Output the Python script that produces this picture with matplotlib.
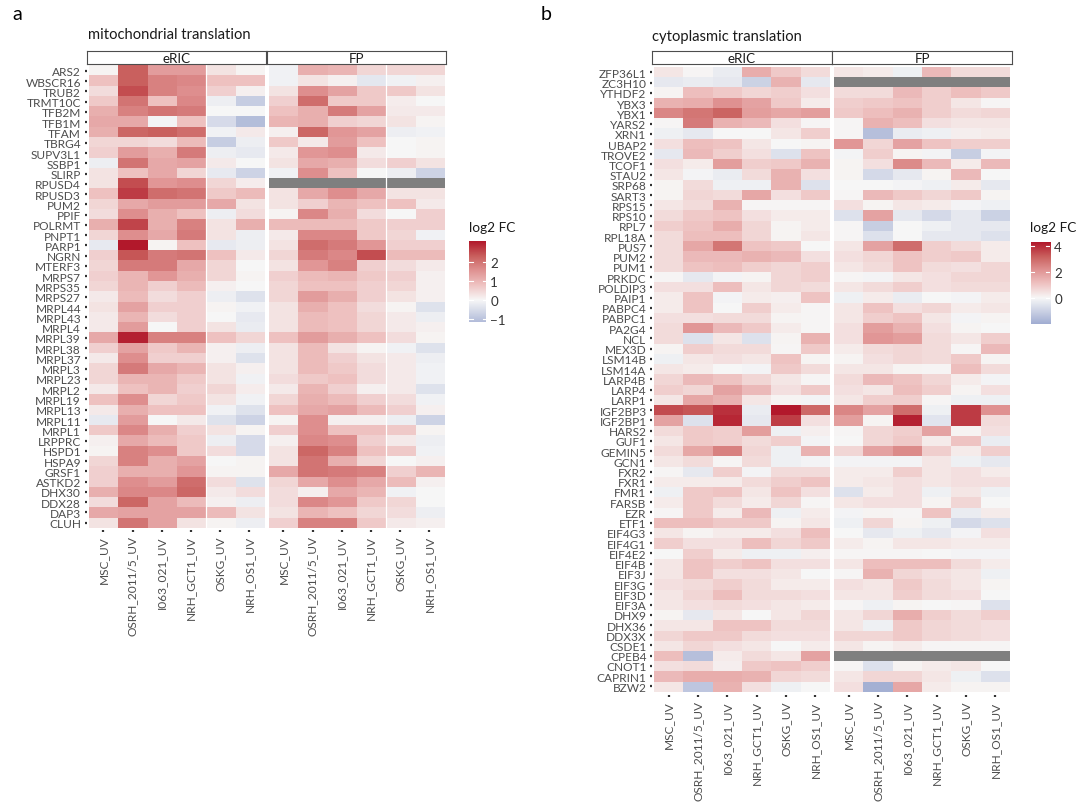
import numpy as np
import matplotlib
matplotlib.use("Agg")
import matplotlib.pyplot as plt
from matplotlib.colors import LinearSegmentedColormap, Normalize

W, H = 1080, 804
plt.rcParams["font.family"] = ["Lato", "DejaVu Sans"]

nan = float("nan")

samples = ["MSC_UV", "OSRH_2011/5_UV", "I063_021_UV", "NRH_GCT1_UV", "OSKG_UV", "NRH_OS1_UV"]

# --- panel a: mitochondrial translation (log2 FC) ---
mito_genes = ["ARS2", "WBSCR16", "TRUB2", "TRMT10C", "TFB2M", "TFB1M", "TFAM", "TBRG4",
              "SUPV3L1", "SSBP1", "SLIRP", "RPUSD4", "RPUSD3", "PUM2", "PPIF", "POLRMT",
              "PNPT1", "PARP1", "NGRN", "MTERF3", "MRPS7", "MRPS35", "MRPS27", "MRPL44",
              "MRPL43", "MRPL4", "MRPL39", "MRPL38", "MRPL37", "MRPL3", "MRPL23", "MRPL2",
              "MRPL19", "MRPL13", "MRPL11", "MRPL1", "LRPPRC", "HSPD1", "HSPA9", "GRSF1",
              "ASTKD2", "DHX30", "DDX28", "DAP3", "CLUH"]

mito_eric = [
    [0.05, 2.3, 1.4, 1.4, 0.3, 0.05],
    [0.8, 2.3, 1.8, 1.7, 0.8, 0.8],
    [0.4, 2.5, 1.8, 1.6, 0.6, 0.1],
    [0.7, 2.0, 0.8, 1.7, -0.15, -0.8],
    [1.1, 1.8, 2.0, 1.9, 0.0, 0.0],
    [1.2, 1.2, -0.05, 0.8, -0.55, -1.1],
    [1.1, 2.2, 2.3, 2.1, -0.1, 0.2],
    [0.5, 0.5, 0.4, 0.9, -0.8, -0.15],
    [0.6, 1.4, 1.1, 1.9, -0.15, -0.25],
    [-0.15, 2.0, 1.2, 1.3, 0.2, 0.0],
    [0.3, 0.8, 1.2, 0.5, -0.25, -0.7],
    [0.3, 2.5, 1.5, 1.6, 0.5, 0.15],
    [0.8, 2.7, 2.1, 2.0, 0.7, 0.9],
    [0.5, 1.2, 1.4, 1.4, 1.2, 0.3],
    [0.4, 1.6, 1.1, 0.8, -0.15, 0.4],
    [1.1, 2.6, 1.1, 1.8, 0.3, 1.1],
    [0.5, 1.6, 1.2, 1.9, 0.3, -0.15],
    [-0.25, 3.1, 0.05, 0.8, -0.25, -0.15],
    [0.6, 2.4, 1.9, 2.0, 0.8, 0.2],
    [0.5, 1.9, 1.9, 1.2, 0.5, 0.0],
    [0.6, 1.0, 1.5, 1.1, 0.5, 0.05],
    [0.5, 1.0, 0.6, 0.9, 0.1, 0.0],
    [0.2, 0.9, 0.4, 0.6, -0.15, -0.4],
    [0.3, 1.3, 0.6, 0.6, 0.05, -0.1],
    [0.2, 1.0, 0.4, 0.6, 0.0, -0.25],
    [0.2, 1.4, 0.0, 0.6, 0.3, -0.2],
    [1.2, 3.0, 1.8, 1.8, 0.8, 0.5],
    [0.6, 1.3, 0.7, 1.0, 0.1, -0.15],
    [0.2, 1.6, 0.6, 0.6, 0.1, -0.4],
    [0.5, 1.9, 1.2, 1.0, 0.3, 0.1],
    [0.5, 1.0, 1.0, 0.7, 0.3, -0.1],
    [0.2, 0.8, 1.0, 0.6, 0.5, 0.15],
    [0.8, 1.6, 0.5, 0.7, 0.3, -0.1],
    [0.2, 1.1, 0.8, 0.8, -0.1, -0.4],
    [-0.25, 1.4, 0.0, 0.2, -0.4, -0.7],
    [0.7, 1.7, 1.1, 0.6, 0.3, 0.05],
    [0.1, 1.2, 0.9, 0.7, -0.15, -0.55],
    [0.05, 1.8, 1.6, 0.7, 0.4, -0.55],
    [0.5, 1.8, 1.1, 1.3, 0.0, 0.05],
    [0.6, 1.1, 1.1, 1.5, 0.05, 0.05],
    [0.6, 1.6, 1.4, 2.1, 0.4, -0.4],
    [1.1, 1.7, 1.7, 2.2, 0.2, 0.4],
    [0.4, 2.2, 1.3, 0.9, 0.1, -0.15],
    [1.2, 1.3, 1.3, 1.3, 0.9, 0.3],
    [0.3, 2.0, 1.3, 0.3, 0.05, -0.15],
]

mito_fp = [
    [-0.1, 1.1, 1.0, 0.5, 0.5, 0.5],
    [-0.1, 0.3, 0.1, -0.3, -0.1, 0.1],
    [0.3, 1.6, 1.3, 0.7, 0.7, 0.3],
    [0.6, 2.1, 0.7, 0.7, 0.15, 0.0],
    [0.8, 1.1, 1.9, 1.3, 0.2, 0.2],
    [1.0, 1.1, 0.6, 0.5, 0.3, 0.05],
    [0.1, 2.2, 1.5, 1.3, -0.15, -0.1],
    [0.7, 0.2, 1.4, 0.8, 0.0, 0.05],
    [0.2, 1.5, 1.6, 0.2, 0.0, 0.05],
    [0.3, 1.2, 1.1, 0.4, 0.6, 0.3],
    [-0.1, 1.6, 0.8, 0.0, -0.15, -0.7],
    [nan, nan, nan, nan, nan, nan],
    [0.3, 1.2, 1.6, 1.2, 0.3, 0.3],
    [0.3, 0.6, 1.0, 0.8, 0.8, 0.2],
    [0.05, 1.7, 1.1, 0.4, 0.0, 0.6],
    [0.9, 0.9, 0.9, 0.7, 0.6, 0.6],
    [0.2, 1.7, 1.7, 0.7, 0.5, -0.1],
    [0.3, 2.1, 1.9, 1.5, 0.6, 0.6],
    [0.5, 1.9, 1.7, 2.5, 0.9, 0.9],
    [0.3, 1.5, 1.8, 0.6, 0.4, 0.2],
    [0.6, 0.9, 1.0, 0.7, 0.6, 0.1],
    [0.5, 0.8, 0.8, 0.6, 0.5, 0.1],
    [0.5, 1.4, 1.1, 0.6, 0.3, 0.1],
    [0.3, 1.1, 0.8, 0.4, 0.05, -0.4],
    [0.3, 0.9, 0.8, 0.5, 0.2, -0.15],
    [0.3, 0.9, 0.8, 0.5, 0.2, 0.1],
    [0.8, 1.4, 1.1, 0.8, 0.4, 0.05],
    [0.3, 0.9, 0.3, 0.05, -0.1, -0.4],
    [0.3, 0.9, 0.6, 0.3, 0.2, -0.15],
    [0.3, 0.9, 0.7, 0.4, 0.2, -0.1],
    [0.4, 0.7, 0.8, 0.4, 0.2, -0.1],
    [0.2, 1.0, 0.6, 0.1, 0.2, -0.4],
    [0.5, 1.1, 0.9, 0.6, 0.4, -0.1],
    [0.8, 1.2, 1.3, 0.9, 0.6, 0.1],
    [0.05, 1.6, 0.1, 0.1, -0.15, -0.7],
    [0.6, 1.6, 0.8, 0.8, 0.7, 0.05],
    [0.1, 1.7, 1.6, 0.6, 0.2, -0.15],
    [0.3, 2.2, 1.8, 0.8, 0.7, -0.1],
    [0.3, 2.0, 1.1, 0.5, 0.0, 0.1],
    [1.2, 2.0, 1.9, 1.8, 0.6, 1.0],
    [0.5, 1.2, 1.6, 1.2, 0.9, 0.1],
    [0.4, 0.1, 1.2, 1.0, -0.1, 0.0],
    [0.4, 1.7, 1.5, 0.7, 0.5, 0.0],
    [0.3, 1.0, 0.8, 0.5, 0.4, -0.15],
    [0.6, 1.8, 1.8, 0.7, 0.2, 0.1],
]

# --- panel b: cytoplasmic translation (log2 FC) ---
cyto_genes = ["ZFP36L1", "ZC3H10", "YTHDF2", "YBX3", "YBX1", "YARS2", "XRN1", "UBAP2",
              "TROVE2", "TCOF1", "STAU2", "SRP68", "SART3", "RPS15", "RPS10", "RPL7",
              "RPL18A", "PUS7", "PUM2", "PUM1", "PRKDC", "POLDIP3", "PAIP1", "PABPC4",
              "PABPC1", "PA2G4", "NCL", "MEX3D", "LSM14B", "LSM14A", "LARP4B", "LARP4",
              "LARP1", "IGF2BP3", "IGF2BP1", "HARS2", "GUF1", "GEMIN5", "GCN1", "FXR2",
              "FXR1", "FMR1", "FARSB", "EZR", "ETF1", "EIF4G3", "EIF4G1", "EIF4E2",
              "EIF4B", "EIF3J", "EIF3G", "EIF3D", "EIF3A", "DHX9", "DHX36", "DDX3X",
              "CSDE1", "CPEB4", "CNOT1", "CAPRIN1", "BZW2"]

cyto_eric = [
    [0.35, 0.05, -0.3, 1.55, 0.95, 0.6],
    [-0.4, -0.3, -0.4, -1.0, 1.45, -0.4],
    [0.1, 1.2, 0.95, 0.7, 0.85, 0.5],
    [1.45, 1.55, 2.15, 1.8, 0.95, 0.25],
    [2.4, 2.75, 3.1, 1.9, 1.7, 1.9],
    [0.05, 2.65, 1.45, 1.3, 0.5, 0.05],
    [-0.2, -0.4, 0.0, 0.0, 0.35, 0.85],
    [0.5, 1.2, 1.1, 0.35, 0.0, 0.1],
    [-0.4, 1.3, 0.85, 0.5, -0.6, 1.1],
    [0.5, 0.25, 1.9, 0.85, 0.95, 1.45],
    [0.35, -0.1, -0.3, 0.6, 1.45, 0.5],
    [0.1, 0.6, -0.2, -0.2, 1.45, -0.6],
    [0.1, 0.7, 0.6, 1.7, 0.5, 0.95],
    [0.35, 0.6, 1.45, 0.05, 0.05, 0.05],
    [0.6, 0.95, 1.1, 0.5, 0.25, 0.25],
    [0.85, 1.1, 1.55, 0.7, 0.1, 0.25],
    [0.6, 1.2, 1.2, 0.7, 0.1, 0.35],
    [0.6, 1.7, 2.75, 1.1, 0.95, 0.0],
    [0.6, 1.3, 1.3, 1.45, 1.3, 0.5],
    [0.6, 1.1, 1.2, 0.85, 0.7, 0.85],
    [0.05, -0.4, -0.1, 0.1, 0.7, 0.85],
    [0.5, 0.5, 1.2, 0.35, 0.7, 0.6],
    [0.25, 1.1, -0.1, 0.25, 0.2, 1.1],
    [0.25, 1.1, 0.0, 0.85, 0.25, 0.05],
    [0.5, 0.5, 0.6, 0.6, 0.1, 0.05],
    [0.6, 2.05, 1.3, 0.95, 0.25, 0.05],
    [0.6, -0.6, 0.35, -0.6, 0.1, 1.45],
    [0.1, 0.85, 0.6, 0.6, 0.05, 0.95],
    [-0.2, 0.35, 0.5, 0.35, 1.1, 0.1],
    [0.35, 0.25, 0.0, -0.1, 0.95, 0.6],
    [0.7, 1.3, 1.1, 0.7, 0.35, 0.05],
    [0.85, 0.7, 1.8, 1.3, 0.5, 0.95],
    [0.35, 1.7, 1.45, 0.35, 0.1, -0.1],
    [3.5, 3.35, 3.9, -0.3, 4.3, 3.0],
    [1.8, -0.6, 4.05, -0.4, 3.7, 0.5],
    [0.6, 0.95, 0.85, 1.9, -0.2, 0.2],
    [0.35, 0.95, 0.85, 0.6, 0.85, -0.1],
    [0.6, 1.7, 2.5, 0.7, -0.2, 1.45],
    [0.35, 0.6, 0.05, 0.6, -0.2, -0.1],
    [0.05, -0.4, 0.85, -0.1, 0.6, 0.6],
    [0.25, 0.25, 0.25, 0.6, 0.85, 1.1],
    [-0.2, 0.95, 1.1, 0.35, 1.1, 0.5],
    [0.25, 0.95, 0.6, 0.25, 0.7, 0.05],
    [0.05, 0.95, 0.25, 1.3, -0.2, 0.25],
    [1.2, 1.2, 0.95, 0.95, 0.1, 0.35],
    [0.35, 0.1, 0.25, 0.25, 0.5, 1.2],
    [0.85, 0.5, 0.5, 1.2, 0.7, 0.95],
    [0.0, 0.85, 0.25, -0.2, -0.2, 0.2],
    [0.35, 1.1, 0.85, 1.1, 0.5, 0.5],
    [0.35, 1.1, 0.5, 0.5, 0.35, 0.0],
    [0.5, 0.6, 0.85, 0.6, 0.25, 0.25],
    [0.35, 0.7, 1.2, 0.6, 0.6, 0.5],
    [0.35, 0.5, 0.6, 0.5, 0.35, 0.25],
    [0.1, -0.4, 0.35, 0.0, 0.35, 0.7],
    [0.35, 0.35, 1.1, 1.1, 0.6, 0.6],
    [0.7, 0.95, 0.95, 0.6, 0.5, 0.5],
    [0.35, 0.7, 0.5, 0.35, 0.0, 0.25],
    [1.2, -1.5, 0.25, 0.6, 0.35, 1.8],
    [0.5, 0.6, 0.2, 0.95, 1.1, 0.85],
    [1.3, 1.55, 1.55, 1.45, 0.7, 0.6],
    [0.35, -1.3, 1.45, 0.5, -0.2, 0.0],
]

cyto_fp = [
    [0.35, 0.25, -0.2, 1.3, 0.6, 0.6],
    [nan, nan, nan, nan, nan, nan],
    [0.6, 0.6, 1.3, 0.85, 1.2, 0.95],
    [0.85, 0.95, 1.1, 0.85, 0.35, 0.05],
    [0.95, 1.2, 1.45, 0.85, 0.6, 0.7],
    [0.05, 1.45, 1.2, 0.5, 0.35, 0.35],
    [0.05, -1.5, -0.3, -0.2, 0.2, 0.25],
    [2.05, 0.7, 1.8, 1.1, 0.85, 0.85],
    [-0.1, 0.85, 0.1, -0.1, -1.1, -0.1],
    [0.1, 0.5, 2.3, 1.3, 0.25, 1.3],
    [0.1, -0.8, -0.4, 0.1, 1.3, 0.0],
    [0.0, 0.0, -0.1, -0.2, 0.25, -0.4],
    [0.05, 1.3, 0.95, 0.7, 0.95, 0.1],
    [0.5, 0.1, 0.35, 0.25, -0.1, -0.2],
    [-0.6, 1.8, -0.4, -0.8, -0.4, -1.0],
    [0.05, -1.1, 0.0, -0.2, -0.4, -0.4],
    [0.05, -0.6, 0.0, -0.4, -0.4, -0.6],
    [0.35, 1.8, 2.9, 0.85, 0.6, 0.25],
    [0.5, 0.7, 1.1, 0.85, 0.95, 0.25],
    [0.35, 0.6, 1.1, 0.6, 0.5, 0.7],
    [0.05, -0.1, 0.35, 0.5, 0.7, 0.7],
    [0.35, 0.6, 0.85, 0.5, 0.6, 0.6],
    [-0.2, 0.25, -0.3, 0.0, -0.1, 0.25],
    [0.35, 1.1, 0.5, 0.7, 0.25, 0.35],
    [0.35, 0.85, 1.1, 0.35, -0.1, 0.1],
    [0.5, 1.9, 1.45, 0.5, 0.1, 0.0],
    [0.5, 2.05, 1.9, 0.6, 0.35, 0.85],
    [0.25, 0.6, 0.7, 0.6, 0.05, 1.3],
    [0.1, 0.5, 0.7, 0.6, 0.95, 0.1],
    [0.35, 0.35, 0.1, 0.05, 1.2, 0.6],
    [0.6, 1.3, 1.1, 0.7, 0.25, -0.1],
    [0.5, 0.35, 1.2, 0.85, 0.1, 0.5],
    [0.35, 0.85, 0.85, 0.05, -0.2, -0.2],
    [2.4, 1.8, 2.9, -0.2, 3.75, 2.15],
    [1.9, 0.1, 4.15, -0.5, 3.75, 0.6],
    [0.05, 0.7, 0.85, 1.8, 0.1, 0.5],
    [0.0, 0.7, 0.95, 0.25, 1.1, -0.3],
    [0.7, 1.8, 2.3, 0.85, 0.25, 0.85],
    [-0.1, -0.1, -0.1, 0.35, -0.2, -0.4],
    [0.25, 0.25, 0.85, 0.35, 0.5, 0.25],
    [0.25, 0.35, 0.5, 0.35, 0.5, 0.5],
    [-0.6, 0.25, 0.5, -0.2, 0.35, -0.2],
    [0.35, 0.5, 0.5, 0.1, 0.7, 0.0],
    [-0.1, 0.1, 0.05, 1.1, -0.3, 0.25],
    [-0.2, 0.7, 0.1, -0.2, -0.8, -0.6],
    [0.0, -0.4, -0.2, -0.4, -0.1, 0.5],
    [0.25, 0.1, 0.35, 0.35, 0.25, 0.25],
    [0.05, 0.05, 0.05, 0.0, -0.1, -0.1],
    [0.35, 1.2, 1.2, 1.2, 0.6, 0.25],
    [0.05, 1.45, 0.7, 0.5, 0.35, -0.2],
    [0.5, 0.35, 0.95, 0.6, 0.35, 0.1],
    [0.35, 0.35, 0.85, 0.6, 0.5, 0.0],
    [0.05, -0.2, 0.1, 0.0, 0.05, -0.6],
    [0.35, 0.7, 1.55, 0.85, 0.6, 0.85],
    [0.35, -0.2, 0.95, 0.7, 0.6, 0.5],
    [0.7, 0.7, 0.95, 0.7, 0.6, 0.5],
    [0.35, 0.1, 0.25, 0.05, 0.05, 0.05],
    [nan, nan, nan, nan, nan, nan],
    [0.05, -0.6, 0.1, 0.25, 0.35, 0.0],
    [0.35, 0.7, 0.7, 0.35, -0.2, -0.6],
    [0.5, -1.9, 1.7, 0.25, 0.1, 0.1],
]

# colour bar ranges shown in the legends
mito_range = (-1.15, 3.1)
cyto_range = (-2.0, 4.3)

cmap = LinearSegmentedColormap.from_list("lfc", [
    (0.0, "#3D58A8"), (0.5, "#F7F7F7"), (0.625, "#EFC4C3"),
    (0.75, "#E09393"), (0.875, "#C95F5D"), (1.0, "#B2182B")])
cmap.set_bad("#7F7F7F")

TXT = "#4D4D4D"


def px_axes(fig, x0, y0, x1, y1):
    return fig.add_axes([x0 / W, 1 - y1 / H, (x1 - x0) / W, (y1 - y0) / H])


def draw_facet(fig, box, data, genes, norm, show_y, yexp, split):
    ax = px_axes(fig, *box)
    arr = np.ma.masked_invalid(np.array(data, dtype=float))
    ax.imshow(arr, cmap=cmap, norm=norm, aspect="auto", interpolation="nearest")
    if split:
        ax.axvline(3.5, color="white", lw=0.9)
    n = len(genes)
    ax.set_xlim(-0.57, 5.57)
    ax.set_ylim(n - 0.5 + yexp, -0.5 - yexp)
    for s in ax.spines.values():
        s.set_visible(False)
    ax.set_xticks(range(len(samples)))
    ax.set_xticklabels(samples, rotation=90)
    if show_y:
        ax.set_yticks(range(n))
        ax.set_yticklabels(genes)
    else:
        ax.set_yticks([])
    ax.tick_params(length=1.6, width=1.6, color="#333333", pad=2.5,
                   labelsize=8.6, labelcolor=TXT)
    return ax


def draw_strip(fig, x0, x1, label):
    sax = px_axes(fig, x0, 51.7, x1, 65)
    sax.set_xticks([])
    sax.set_yticks([])
    for s in sax.spines.values():
        s.set_color("#4D4D4D")
        s.set_linewidth(0.8)
    sax.text(0.5, 0.45, label, ha="center", va="center", fontsize=9.6,
             color="#1A1A1A", transform=sax.transAxes)


def draw_colorbar(fig, box, lo, hi, norm, ticks, title_xy):
    cax = px_axes(fig, *box)
    grad = np.linspace(lo, hi, 300).reshape(-1, 1)
    cax.imshow(grad, cmap=cmap, norm=norm, aspect="auto", origin="lower",
               extent=[0, 1, lo, hi])
    cax.set_xlim(0, 1)
    cax.set_ylim(lo, hi)
    for t in ticks:
        cax.plot([0, 0.2], [t, t], color="white", lw=0.8)
        cax.plot([0.8, 1], [t, t], color="white", lw=0.8)
    cax.set_xticks([])
    cax.yaxis.tick_right()
    cax.set_yticks(ticks)
    cax.set_yticklabels([str(t).replace("-", "\u2212") for t in ticks])
    cax.tick_params(length=0, pad=3, labelsize=9.6, labelcolor="#333333")
    for s in cax.spines.values():
        s.set_visible(False)
    fig.text(title_xy[0] / W, 1 - title_xy[1] / H, "log2 FC", ha="left",
             va="center", fontsize=9.8, color="#1A1A1A")


fig = plt.figure(figsize=(W / 100, H / 100), dpi=100)

# panel a
norm_a = Normalize(-mito_range[1], mito_range[1])
draw_facet(fig, (86.7, 65, 266, 530.6), mito_eric, mito_genes, norm_a, True, 0.17, True)
draw_facet(fig, (266.7, 65, 446, 530.6), mito_fp, mito_genes, norm_a, False, 0.17, True)
draw_strip(fig, 86.7, 266, "eRIC")
draw_strip(fig, 266.7, 446, "FP")
draw_colorbar(fig, (469.3, 241.7, 486, 322.7), mito_range[0], mito_range[1], norm_a,
              [-1, 0, 1, 2], (469, 228))
fig.text(88 / W, 1 - 35 / H, "mitochondrial translation", fontsize=10.6, ha="left",
         va="center", color="#1A1A1A")
fig.text(17 / W, 1 - 15 / H, "a", fontsize=14, ha="center", va="center")

# panel b
norm_b = Normalize(-cyto_range[1], cyto_range[1])
draw_facet(fig, (652.3, 65, 831.7, 695.8), cyto_eric, cyto_genes, norm_b, True, 0.32, False)
draw_facet(fig, (832.3, 65, 1011.7, 695.8), cyto_fp, cyto_genes, norm_b, False, 0.32, False)
draw_strip(fig, 652.3, 831.7, "eRIC")
draw_strip(fig, 832.3, 1011.7, "FP")
draw_colorbar(fig, (1030.5, 243.3, 1050, 325), cyto_range[0], cyto_range[1], norm_b,
              [0, 2, 4], (1030, 228))
fig.text(652 / W, 1 - 37 / H, "cytoplasmic translation", fontsize=10.6, ha="left",
         va="center", color="#1A1A1A")
fig.text(546 / W, 1 - 15 / H, "b", fontsize=14, ha="center", va="center")

fig.savefig("out.png", dpi=100)
